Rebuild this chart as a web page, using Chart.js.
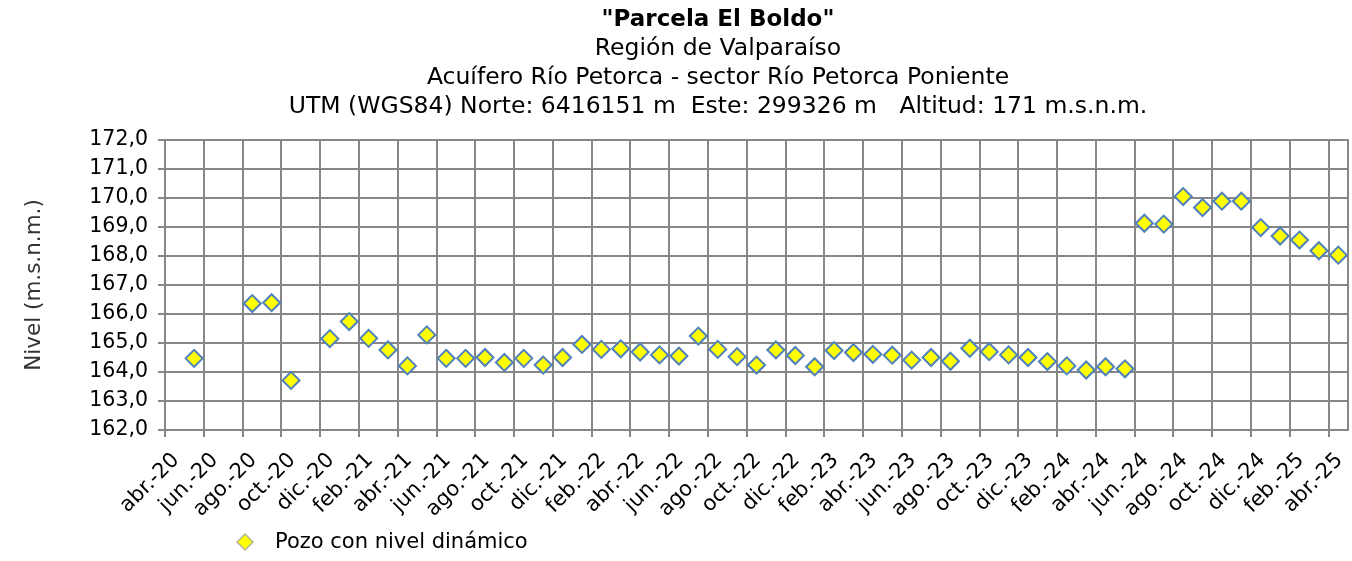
<!DOCTYPE html>
<html>
<head>
<meta charset="utf-8">
<script src="https://cdn.jsdelivr.net/npm/chart.js@4.4.1/dist/chart.umd.min.js"></script>
<style>
    html, body { margin:0; padding:0; background:#ffffff; }
    #contenedor { width:1352px; height:561px; }
</style>
</head>
<body>
<div id="contenedor"><canvas id="graficoNivel"></canvas></div>
<script>

// ===========================
// DATOS
// ===========================

const fechas = [
    "2020-05", "2020-08", "2020-09", "2020-10", "2020-12",
    "2021-01", "2021-02", "2021-03", "2021-04", "2021-05", "2021-06",
    "2021-07", "2021-08", "2021-09", "2021-10", "2021-11", "2021-12",
    "2022-01", "2022-02", "2022-03", "2022-04", "2022-05", "2022-06",
    "2022-07", "2022-08", "2022-09", "2022-10", "2022-11", "2022-12",
    "2023-01", "2023-02", "2023-03", "2023-04", "2023-05", "2023-06",
    "2023-07", "2023-08", "2023-09", "2023-10", "2023-11", "2023-12",
    "2024-01", "2024-02", "2024-03", "2024-04", "2024-05", "2024-06",
    "2024-07", "2024-08", "2024-09", "2024-10", "2024-11", "2024-12",
    "2025-01", "2025-02", "2025-03", "2025-04"
];

const niveles = [
    164.47, 166.36, 166.39, 163.71, 165.15,
    165.74, 165.16, 164.76, 164.21, 165.28, 164.47,
    164.47, 164.50, 164.33, 164.47, 164.24, 164.50,
    164.95, 164.78, 164.80, 164.69, 164.59, 164.55,
    165.24, 164.78, 164.53, 164.24, 164.76, 164.57,
    164.18, 164.74, 164.67, 164.61, 164.58, 164.41,
    164.50, 164.37, 164.82, 164.70, 164.59, 164.50,
    164.36, 164.21, 164.07, 164.18, 164.11, 169.13,
    169.10, 170.05, 169.67, 169.89, 169.89, 168.98,
    168.69, 168.55, 168.18, 168.03
];

const etiquetasX = [
    "abr.-20", "jun.-20", "ago.-20", "oct.-20", "dic.-20",
    "feb.-21", "abr.-21", "jun.-21", "ago.-21", "oct.-21", "dic.-21",
    "feb.-22", "abr.-22", "jun.-22", "ago.-22", "oct.-22", "dic.-22",
    "feb.-23", "abr.-23", "jun.-23", "ago.-23", "oct.-23", "dic.-23",
    "feb.-24", "abr.-24", "jun.-24", "ago.-24", "oct.-24", "dic.-24",
    "feb.-25", "abr.-25"
];

const titulos = [
    "\"Parcela El Boldo\"",
    "Región de Valparaíso",
    "Acuífero Río Petorca - sector Río Petorca Poniente",
    "UTM (WGS84) Norte: 6416151 m  Este: 299326 m   Altitud: 171 m.s.n.m."
];

const nombreSerie = "Pozo con nivel dinámico";
const tituloEjeY = "Nivel (m.s.n.m.)";

const FUENTE = "'DejaVu Sans', Verdana, sans-serif";
const GRIS = "#878787";


// meses desde abr.-20, a mitad de mes
function mesIndice(f){
    const [a, m] = f.split("-").map(Number);
    return (a - 2020) * 12 + (m - 4) + 0.5;
}

const puntos = fechas.map((f, i) => ({ x: mesIndice(f), y: niveles[i] }));


// =================================
// TÍTULOS Y LEYENDA (texto fijo)
// =================================

const textosExtra = {
    id: "textosExtra",
    afterDraw(chart){
        const ctx = chart.ctx;
        ctx.save();
        ctx.fillStyle = "#000000";
        ctx.textAlign = "center";
        ctx.textBaseline = "middle";

        const ys = [20, 49, 78, 107];
        titulos.forEach((t, i) => {
            ctx.font = (i === 0 ? "bold 23px " : "23.5px ") + FUENTE;
            ctx.fillText(t, 718, ys[i]);
        });

        // leyenda
        ctx.fillStyle = "#ffff00";
        ctx.strokeStyle = "#b4b49a";
        ctx.lineWidth = 1.5;
        Chart.helpers.drawPoint(ctx, {
            pointStyle: "rectRot", radius: 8, rotation: 0, borderWidth: 1.5
        }, 245, 542);

        ctx.fillStyle = "#000000";
        ctx.textAlign = "left";
        ctx.font = "21px " + FUENTE;
        ctx.fillText(nombreSerie, 275, 543);
        ctx.restore();
    }
};


// ===========================
// GRÁFICO
// ===========================

new Chart(
    document.getElementById("graficoNivel"),
    {
    type: "scatter",

    data: {
        datasets: [{
            label: nombreSerie,
            data: puntos,
            pointStyle: "rectRot",
            pointRadius: 8.5,
            pointHoverRadius: 8.5,
            backgroundColor: "#ffff00",
            borderColor: "#4f81bd",
            borderWidth: 2,
            clip: false
        }]
    },

    options: {
        responsive: true,
        maintainAspectRatio: false,
        animation: false,
        layout: {
            autoPadding: false,
            padding: { top: 140, right: 4, bottom: 0, left: 0 }
        },
        plugins: {
            legend: { display: false },
            title: { display: false },
            tooltip: { enabled: false }
        },
        scales: {
            x: {
                type: "linear",
                min: 0,
                max: 61,
                afterFit: s => {
                    s.height = 131;
                    s.paddingLeft = 0;
                    s.paddingRight = 0;
                },
                afterBuildTicks: s => {
                    s.ticks = etiquetasX.map((e, i) => ({ value: i * 2 }));
                },
                ticks: {
                    autoSkip: false,
                    maxRotation: 45,
                    minRotation: 45,
                    padding: 11,
                    labelOffset: 11,
                    color: "#000000",
                    font: { family: FUENTE, size: 21 },
                    callback: v => etiquetasX[v / 2] ?? ""
                },
                grid: { color: GRIS, lineWidth: 2, tickLength: 7, tickColor: GRIS },
                border: { color: GRIS, width: 2 }
            },
            y: {
                min: 162,
                max: 172,
                afterFit: s => { s.width = 165; },
                ticks: {
                    stepSize: 1,
                    padding: 10,
                    color: "#000000",
                    font: { family: FUENTE, size: 20.5 },
                    callback: v => v.toFixed(1).replace(".", ",")
                },
                grid: { color: GRIS, lineWidth: 2, tickLength: 7, tickColor: GRIS },
                border: { color: GRIS, width: 2 },
                title: {
                    display: true,
                    text: tituloEjeY,
                    color: "#333333",
                    padding: { top: 22, bottom: 0 },
                    font: { family: FUENTE, size: 21.5 }
                }
            },
            yDer: {
                position: "right",
                min: 162,
                max: 172,
                afterFit: s => { s.width = 0; },
                ticks: { display: false },
                grid: { display: false },
                border: { color: GRIS, width: 2 }
            }
        }
    },

    plugins: [textosExtra]
    }
);

</script>
</body>
</html>
